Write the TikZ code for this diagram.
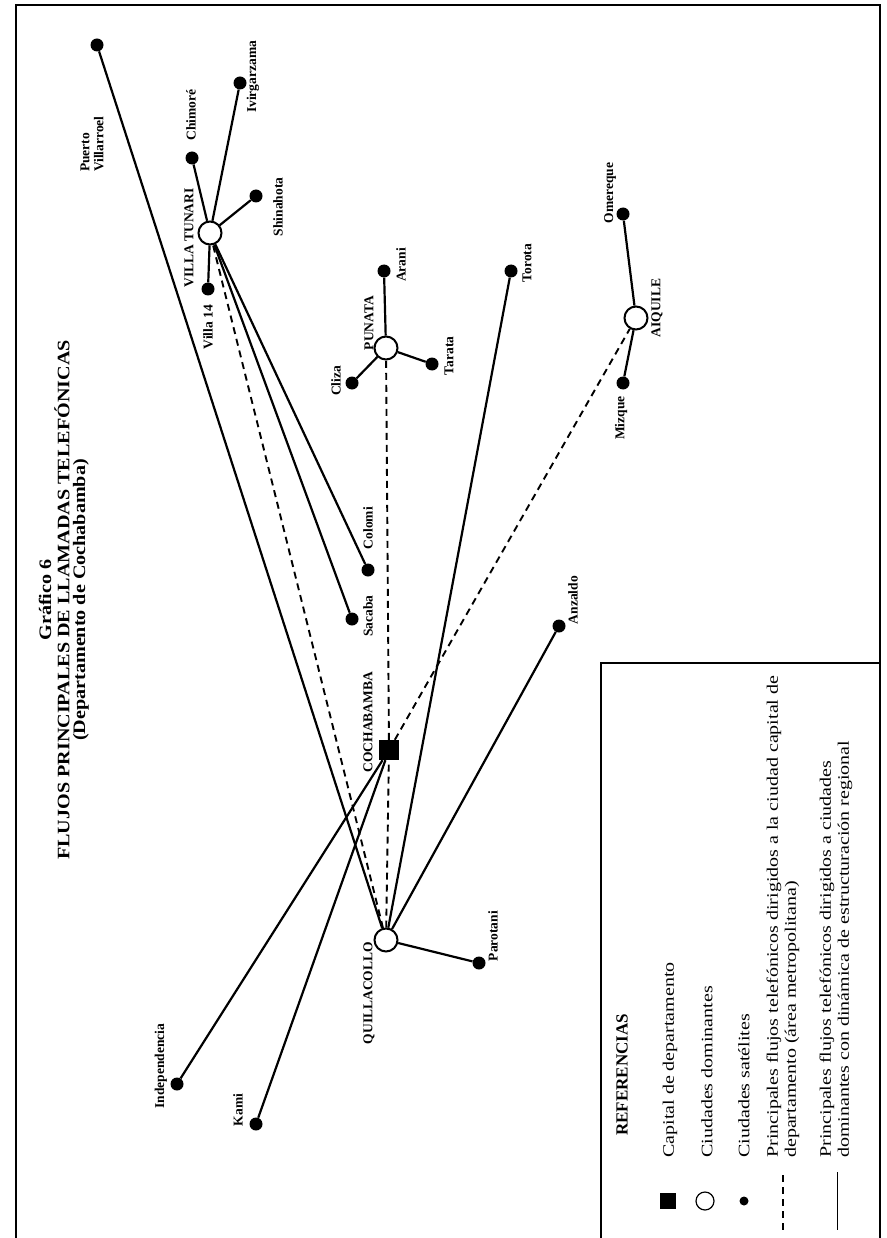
\documentclass[tikz,border=0pt]{standalone}
\usepackage{fontspec}
\setmainfont{Liberation Serif}

\begin{document}
\begin{tikzpicture}
    [
    x=1pt,y=-1pt,
    sat/.style={circle,fill,inner sep=0pt,minimum size=13pt},
    dom/.style={circle,draw,fill=white,line width=2pt,inner sep=0pt,minimum size=23pt},
    capital/.style={rectangle,fill,inner sep=0pt,minimum size=20pt},
    lbl/.style={rotate=90,inner sep=0pt,font=\bfseries\fontsize{13.5}{14}\selectfont},
    ttl/.style={rotate=90,xscale=1.15,inner sep=0pt,font=\bfseries\fontsize{17.5}{20}\selectfont},
    ref/.style={rotate=90,xscale=1.25,inner sep=0pt,anchor=west,align=left,font=\fontsize{16}{18}\selectfont},
    flow/.style={line width=2.2pt},
    metro/.style={line width=1.9pt,dash pattern=on 7pt off 5pt}
    ]
    \useasboundingbox (0,0) rectangle (886,1238);
    \draw [line width=2pt] (16,1238) -- (16,5) -- (880,5) -- (880,1238);
    \draw [line width=1.5pt] (601,1238) -- (601,663) -- (880,663);

    \node (t1) at (45,600) [ttl] {Gráfico 6};
    \node (t2) at (62,600) [ttl] {FLUJOS PRINCIPALES DE LLAMADAS TELEFÓNICAS};
    \node (t3) at (81,600) [ttl] {(Departamento de Cochabamba)};

    \node (cbba) at (389,750) [capital] {};
    \node (quill) at (386,940) [dom] {};
    \node (vt) at (210,233) [dom] {};
    \node (pun) at (386,348) [dom] {};
    \node (aiq) at (636,318) [dom] {};

    \node (pv) at (97,45) [sat] {};
    \node (chim) at (192,158) [sat] {};
    \node (ivir) at (240,83) [sat] {};
    \node (shin) at (256,196) [sat] {};
    \node (v14) at (208,289) [sat] {};
    \node (arani) at (384,271) [sat] {};
    \node (cliza) at (352,383) [sat] {};
    \node (tarata) at (432,364) [sat] {};
    \node (torota) at (511,271) [sat] {};
    \node (omer) at (623,214) [sat] {};
    \node (mizq) at (623,383) [sat] {};
    \node (colomi) at (368,570) [sat] {};
    \node (sacaba) at (352,619) [sat] {};
    \node (anz) at (559,626) [sat] {};
    \node (parot) at (479,963) [sat] {};
    \node (indep) at (177,1084) [sat] {};
    \node (kami) at (256,1124) [sat] {};

    \node (lpv) at (92,172) [lbl,anchor=west,align=left] {Puerto\\Villarroel};
    \node (lchim) at (191,115) [lbl] {Chimoré};
    \node (livir) at (253,77) [lbl] {Ivirgarzama};
    \node (lshin) at (278,207) [lbl] {Shinahota};
    \node (lvt) at (189,238) [lbl] {VILLA TUNARI};
    \node (lv14) at (208,327) [lbl] {Villa 14};
    \node (lpun) at (369,323) [lbl] {PUNATA};
    \node (larani) at (401,265) [lbl] {Arani};
    \node (lcliza) at (336,381) [lbl] {Cliza};
    \node (ltarata) at (449,356) [lbl] {Tarata};
    \node (ltorota) at (527,263) [lbl] {Torota};
    \node (laiq) at (657,308) [lbl] {AIQUILE};
    \node (lomer) at (610,193) [lbl] {Omereque};
    \node (lmizq) at (621,418) [lbl] {Mizque};
    \node (lcolomi) at (368,528) [lbl] {Colomi};
    \node (lsacaba) at (368,616) [lbl] {Sacaba};
    \node (lcbba) at (368,722) [lbl] {COCHABAMBA};
    \node (lanz) at (573,600) [lbl] {Anzaldo};
    \node (lquill) at (369,993) [lbl] {QUILLACOLLO};
    \node (lparot) at (493,936) [lbl] {Parotani};
    \node (lindep) at (161,1066) [lbl] {Independencia};
    \node (lkami) at (238,1110) [lbl] {Kami};

    \draw [flow] (quill) -- (pv);
    \draw [flow] (quill) -- (torota);
    \draw [flow] (quill) -- (anz);
    \draw [flow] (quill) -- (parot);
    \draw [flow] (cbba) -- (indep);
    \draw [flow] (cbba) -- (kami);
    \draw [flow] (vt) -- (chim);
    \draw [flow] (vt) -- (ivir);
    \draw [flow] (vt) -- (shin);
    \draw [flow] (vt) -- (v14);
    \draw [flow] (vt) -- (colomi);
    \draw [flow] (vt) -- (sacaba);
    \draw [flow] (pun) -- (arani);
    \draw [flow] (pun) -- (cliza);
    \draw [flow] (pun) -- (tarata);
    \draw [flow] (aiq) -- (omer);
    \draw [flow] (aiq) -- (mizq);
    \draw [metro] (quill) -- (cbba);
    \draw [metro] (cbba) -- (pun);
    \draw [metro] (quill) -- (vt);
    \draw [metro] (cbba) -- (aiq);

    \node (lref) at (622,1075) [rotate=90,inner sep=0pt,font=\bfseries\fontsize{17}{20}\selectfont] {REFERENCIAS};
    \node (kcap) at (668,1201) [capital,minimum size=16pt] {};
    \node (kdom) at (705,1201) [dom,minimum size=18pt,line width=1.2pt] {};
    \node (ksat) at (744,1201) [sat,minimum size=9pt] {};
    \coordinate (km1) at (783,1175);
    \coordinate (km2) at (783,1230);
    \coordinate (kf1) at (837,1172);
    \coordinate (kf2) at (837,1230);
    \draw [metro,line width=1.2pt] (km1) -- (km2);
    \draw [line width=1pt] (kf1) -- (kf2);
    \node (tcap) at (670,1158) [ref] {Capital de departamento};
    \node (tdom) at (707,1158) [ref] {Ciudades dominantes};
    \node (tsat) at (744,1158) [ref] {Ciudades satélites};
    \node (tmetro) at (783,1158) [ref] {Principales flujos telefónicos dirigidos a la ciudad capital de\\departamento (área metropolitana)};
    \node (tflow) at (836,1158) [ref] {Principales flujos telefónicos dirigidos a ciudades\\dominantes con dinámica de estructuración regional};
\end{tikzpicture}
\end{document}
